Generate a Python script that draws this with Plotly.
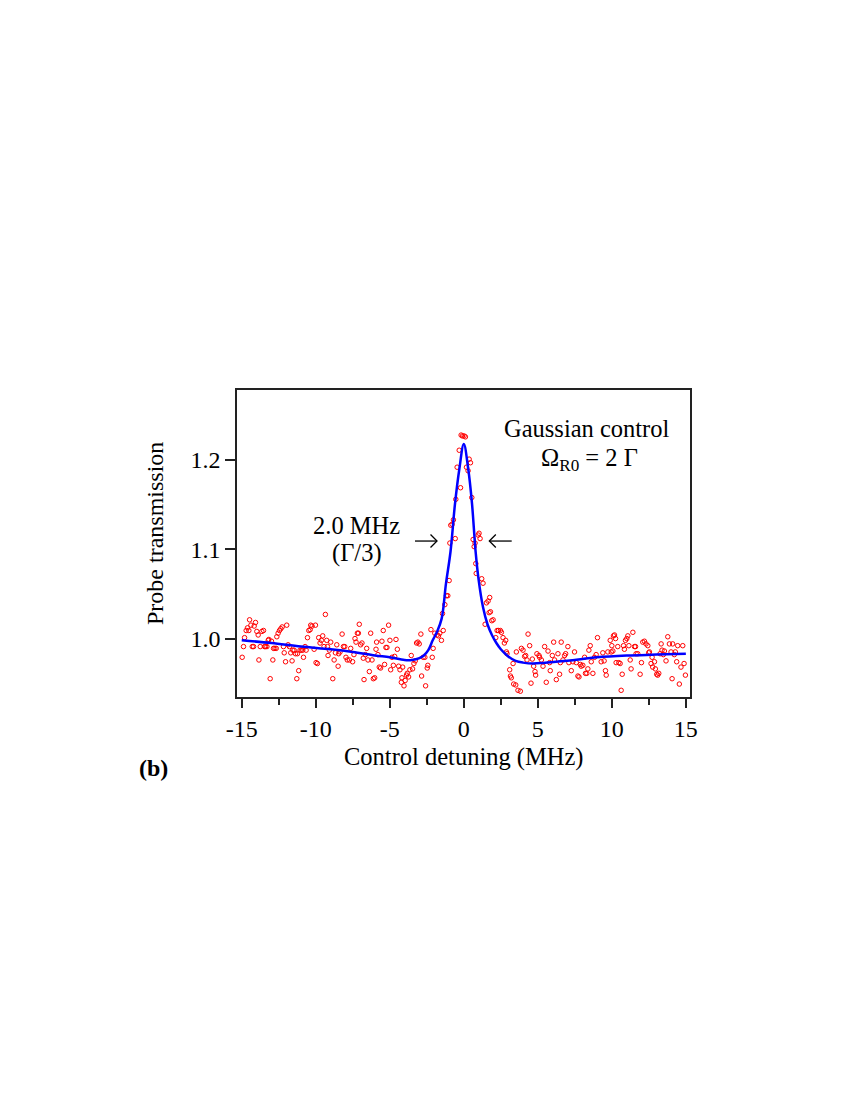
import plotly.graph_objects as go

# Measured data points (Control detuning in MHz, probe transmission)
x_data = [
    -14.97, -14.88, -14.81, -14.70, -14.61, -14.52, -14.47, -14.38, -14.29, -14.20,
    -14.16, -14.07, -13.98, -13.89, -13.84, -13.75, -13.64, -13.53, -13.46, -13.39,
    -13.30, -13.21, -13.17, -13.08, -12.99, -12.90, -12.85, -12.76, -12.67, -12.63,
    -12.54, -12.45, -12.36, -12.27, -12.18, -12.13, -12.04, -11.96, -11.87, -11.78,
    -11.69, -11.60, -11.55, -11.46, -11.37, -11.28, -11.24, -11.15, -11.06, -10.97,
    -10.88, -10.83, -10.72, -10.65, -10.56, -10.47, -10.38, -10.34, -10.25, -10.11,
    -10.02, -9.98, -9.89, -9.80, -9.71, -9.62, -9.53, -9.44, -9.35, -9.26,
    -9.21, -9.17, -9.08, -8.99, -8.85, -8.76, -8.67, -8.58, -8.49, -8.45,
    -8.36, -8.22, -8.13, -8.04, -7.96, -7.87,
    -7.73, -7.64, -7.51, -7.42, -7.35, -7.28, -7.19, -7.12, -7.06, -6.97,
    -6.88, -6.79, -6.74, -6.65, -6.56, -6.47, -6.38, -6.29, -6.20, -6.11,
    -6.02, -5.93, -5.89, -5.80, -5.71, -5.62, -5.53, -5.44, -5.35, -5.26,
    -5.19, -5.08, -4.99, -4.94, -4.85, -4.76, -4.67, -4.58, -4.49, -4.40,
    -4.31, -4.22, -4.18, -4.13, -4.04, -3.96, -3.87, -3.82, -3.73, -3.64,
    -3.55, -3.46, -3.37, -3.28, -3.19, -3.10, -3.01,
    -2.90, -2.74, -2.63, -2.85, -2.58, -2.43, -2.47, -2.22, -2.13, -2.07,
    -1.96, -1.80, -1.71, -1.62, -1.51, -1.39, -1.44, -1.28, -1.17, -1.08,
    -0.99, -0.94, -0.88, -0.79, -0.70, -0.58, -0.54, -0.45, -0.31, -0.22,
    -0.18, -0.09, 0.02, 0.11, 0.18, 0.29, 0.36, 0.45, 0.54, 0.63,
    0.70, 0.76, 0.97, 1.03, 1.10, 0.81, 0.84, 1.21, 1.30, 1.53,
    1.64, 1.75, 1.44, 1.71, 1.80, 1.89, 1.98, 2.16, 2.25, 2.34,
    2.47, 2.54, 2.65, 2.74, 2.83, 2.88, 2.92, 3.10, 3.15, 3.21,
    3.33, 3.37, 3.51, 3.55, 3.66, 3.82, 3.89, 4.00, 4.11, 4.18,
    4.27, 4.34, 4.45, 4.54, 4.63, 4.72, 4.81, 4.85, 4.94, 5.08,
    5.12, 5.24, 5.35, 5.46, 5.57, 5.69, 5.80, 5.84, 5.98, 6.07,
    6.13, 6.25, 6.36, 6.47, 6.52, 6.58, 6.70, 6.81, 6.88, 7.03,
    7.10, 7.26, 7.37, 7.48, 7.60, 7.71, 7.78, 7.87, 7.93, 8.04,
    8.16, 8.22, 8.31, 8.38, 8.45, 8.54, 8.61, 8.72, 8.83, 8.94,
    9.03,
    9.28, 9.39, 9.48, 9.57, 9.62, 9.73, 9.89, 9.96, 10.00, 10.07,
    10.11, 10.18, 10.25, 10.29, 10.40, 10.47, 10.56, 10.63, 10.70, 10.79,
    10.85, 10.92, 11.01, 11.08, 11.15, 11.24, 11.30, 11.42, 11.53, 11.60,
    11.64, 11.75, 11.91, 12.00, 12.09, 12.20, 12.31, 12.43, 12.49, 12.54,
    12.65, 12.72, 12.76, 12.88, 12.94, 13.03, 13.10, 13.17, 13.26, 13.33,
    13.39, 13.48, 13.55, 13.66, 13.78, 13.89, 14.00, 14.07, 14.11, 14.22,
    14.29, 14.38, 14.45, 14.56, 14.67, 14.79, 14.88, 14.97,
]
y_data = [
    0.979, 0.991, 1.001, 1.009, 1.012, 1.009, 1.021, 1.015, 0.991, 0.991,
    1.014, 1.018, 1.008, 1.004, 0.976, 0.991, 1.008, 1.009, 0.991, 0.991,
    0.991, 0.998, 0.999, 0.955, 0.997, 0.976, 0.989, 0.989, 0.989, 1.002,
    1.006, 1.009, 1.011, 1.013, 0.991, 0.984, 0.974, 1.015, 0.993, 0.991,
    0.984, 0.975, 0.987, 0.987, 0.983, 0.955, 0.983, 0.964, 0.987, 0.987,
    0.987, 0.979, 0.991, 0.987, 1.001, 1.009, 1.010, 1.015, 1.014, 0.988,
    1.015, 0.973, 0.972, 1.001, 0.995, 0.998, 1.003, 0.991, 1.027, 0.998,
    0.991, 0.981, 0.987, 0.996, 0.955, 0.976, 0.984, 0.993, 0.969, 0.983,
    0.985, 1.005, 0.991, 0.991, 0.979, 0.976,
    0.976, 0.989, 0.974, 0.982, 1.000, 0.996, 1.006, 1.006, 1.016, 0.993,
    0.995, 0.978, 0.954, 0.982, 0.989, 0.976, 0.963, 1.006, 0.976, 0.955,
    0.956, 0.988, 0.996, 0.982, 0.968, 0.967, 0.997, 1.009, 0.971, 0.990,
    0.990, 1.015, 0.998, 0.965, 0.979, 0.970, 0.980, 0.999, 0.988, 0.969,
    0.965, 0.951, 0.956, 0.968, 0.947, 0.953, 0.959, 0.961, 0.957, 0.965,
    0.981, 0.966, 0.972, 0.975, 0.995, 0.996, 0.994,
    1.005, 0.979, 0.979, 0.958, 0.947, 0.970, 0.967, 1.010, 0.979, 0.989,
    1.006, 1.004, 1.003, 1.006, 0.998, 1.009, 1.028, 1.038, 1.048, 1.048,
    1.065, 1.107, 1.127, 1.128, 1.133, 1.112, 1.156, 1.192, 1.211, 1.169,
    1.228, 1.227, 1.227, 1.226, 1.192, 1.188, 1.201, 1.197, 1.158, 1.111,
    1.103, 1.107, 1.116, 1.118, 1.112, 1.084, 1.073, 1.067, 1.062, 1.040,
    1.042, 1.046, 1.016, 1.029, 1.030, 1.020, 1.021, 1.001, 1.009, 1.009,
    1.009, 1.007, 1.001, 0.995, 0.998, 0.985, 0.983, 0.965, 0.958, 0.956,
    0.972, 0.949, 0.948, 0.985, 0.942, 0.941, 0.989, 0.987, 0.980, 0.981,
    0.976, 1.005, 0.992, 0.950, 0.977, 0.969, 0.963, 0.959, 0.983, 0.981,
    0.979, 0.976, 0.969, 0.991, 0.951, 0.986, 0.973, 0.964, 0.981, 0.996,
    0.976, 0.954, 0.983, 0.960, 0.973, 0.996, 0.976, 0.981, 0.983, 0.991,
    0.973, 0.964, 0.974, 0.985, 0.973, 0.958, 0.957, 0.971, 0.969, 0.970,
    0.979, 0.961, 0.961, 0.966, 0.987, 0.992, 0.974, 0.961, 0.979, 0.982,
    1.001,
    0.974, 0.984, 0.975, 0.964, 0.959, 0.985, 0.998, 0.985, 0.992, 0.986,
    1.003, 1.004, 1.000, 0.973, 0.991, 0.973, 0.972, 0.942, 0.960, 0.992,
    0.988, 0.998, 1.000, 1.003, 0.992, 0.976, 0.966, 1.007, 0.991, 0.991,
    0.983, 0.983, 0.960, 0.973, 0.996, 0.997, 0.994, 0.992, 0.984, 0.985,
    0.972, 0.979, 0.968, 0.974, 0.966, 0.960, 0.959, 0.961, 0.983, 0.994,
    0.987, 0.982, 0.986, 0.975, 1.002, 0.994, 0.985, 0.955, 0.994, 0.982,
    0.985, 0.974, 0.992, 0.949, 0.968, 0.992, 0.972, 0.959,
]

# Fitted curve
x_fit = [-15, -13, -11, -9, -7.5, -6, -5, -4, -3.5, -3, -2.7, -2.4, -2.1, -1.8,
         -1.5, -1.2, -0.9, -0.6, -0.3, 0, 0.3, 0.55, 0.8, 1.0, 1.3, 1.6, 1.9,
         2.2, 2.5, 3.0, 3.5, 4.0, 4.7, 5.5, 7, 9, 11, 13, 15]
y_fit = [0.998, 0.995, 0.991, 0.988, 0.985, 0.981, 0.979, 0.976, 0.976, 0.978,
         0.981, 0.987, 0.998, 1.008, 1.022, 1.062, 1.097, 1.150, 1.190, 1.218,
         1.190, 1.152, 1.097, 1.066, 1.035, 1.016, 1.004, 0.995, 0.988, 0.980,
         0.975, 0.973, 0.972, 0.973, 0.975, 0.979, 0.981, 0.982, 0.983]

x_ticks = [-15, -10, -5, 0, 5, 10, 15]
x_ticktext = ["-15", "-10", "-5", "0", "5", "10", "15"]
y_ticks = [1.0, 1.1, 1.2]
y_ticktext = ["1.0", "1.1", "1.2"]

FONT = "Liberation Serif, Times New Roman, serif"

fig = go.Figure()
fig.add_trace(go.Scatter(
    x=x_data, y=y_data, mode="markers",
    marker=dict(symbol="circle-open", size=4.5, color="#ff0000",
                line=dict(width=1, color="#ff0000")),
    showlegend=False, cliponaxis=True,
))
fig.add_trace(go.Scatter(
    x=x_fit, y=y_fit, mode="lines", line=dict(color="#0000ff", width=2.5, shape="spline"),
    showlegend=False,
))

# page body has an 8 px offset, compensate in the margins
fig.update_layout(
    width=850, height=1100,
    margin=dict(l=229, r=168, t=382, b=411),
    paper_bgcolor="white", plot_bgcolor="white",
    font=dict(family=FONT, size=24, color="black"),
    xaxis=dict(range=[-15.32, 15.28], tickvals=x_ticks, ticktext=x_ticktext,
               ticks="outside", ticklen=9,
               tickwidth=1.5, tickcolor="#222", showline=True, linecolor="#222",
               linewidth=1.5, mirror=True, showgrid=False, zeroline=False,
               tickfont=dict(size=24),
               minor=dict(dtick=2.5, tick0=0, ticks="outside", ticklen=6,
                          tickwidth=1.5, tickcolor="#222", showgrid=False)),
    yaxis=dict(range=[0.9345, 1.2785], tickvals=y_ticks, ticktext=y_ticktext,
               ticks="outside", ticklen=10, tickwidth=1.5, tickcolor="#222",
               showline=True, linecolor="#222", linewidth=1.5, mirror=True,
               showgrid=False, zeroline=False, tickfont=dict(size=24)),
)

ann = [
    dict(text="Probe transmission", x=-0.181, y=0.531, textangle=-90, size=24),
    dict(text="Control detuning (MHz)", x=0.5, y=-0.195, size=24.5),
    dict(text="<b>(b)</b>", x=-0.185, y=-0.231, size=24),
    dict(text="Gaussian control", x=0.773, y=0.876, size=24.5),
    dict(text="Ω<sub>R0</sub> = 2 Γ", x=0.778, y=0.772, size=24.5),
    dict(text="2.0 MHz", x=0.264, y=0.560, size=24.5),
    dict(text="(Γ/3)", x=0.264, y=0.469, size=24.5),
]
for a in ann:
    fig.add_annotation(text=a["text"], x=a["x"], y=a["y"], xref="paper", yref="paper",
                       showarrow=False, xanchor="center", yanchor="middle",
                       textangle=a.get("textangle", 0),
                       font=dict(family=FONT, size=a["size"], color="black"))

# width-marker arrows (pointing inward toward the peak), drawn as paper-space shapes
arrow_style = dict(color="black", width=1.3)
# left arrow "→"
fig.add_shape(type="line", xref="paper", yref="paper",
              x0=0.3929, x1=0.4415, y0=0.508, y1=0.508, line=arrow_style)
fig.add_shape(type="path", xref="paper", yref="paper",
              path="M 0.4272 0.5293 L 0.4415 0.508 L 0.4272 0.4870", line=arrow_style)
# right arrow "←"
fig.add_shape(type="line", xref="paper", yref="paper",
              x0=0.5570, x1=0.6064, y0=0.508, y1=0.508, line=arrow_style)
fig.add_shape(type="path", xref="paper", yref="paper",
              path="M 0.5713 0.5293 L 0.5570 0.508 L 0.5713 0.4870", line=arrow_style)

fig.write_html("out.html")
